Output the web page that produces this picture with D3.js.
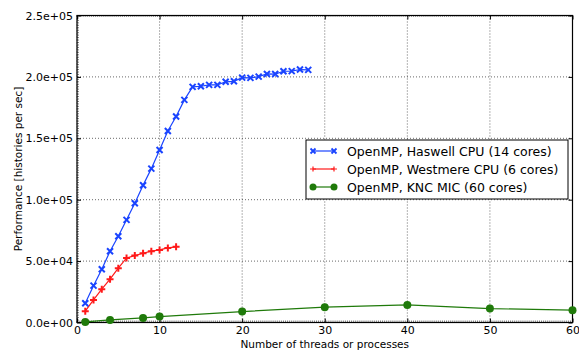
<!DOCTYPE html>
<html>
<head>
<meta charset="utf-8">
<script src="https://cdn.jsdelivr.net/npm/d3@7"></script>
<style>
  body { margin: 0; background: #fff; }
  svg { display: block; font-family: "DejaVu Sans", sans-serif; }
</style>
</head>
<body>
<div id="chart"></div>
<script>
// Data
var haswellThreads = d3.range(1, 29);
var haswellPerf = [15700, 30000, 43400, 58000, 70300, 83600, 97100, 111800, 125300, 140500,
    156000, 167700, 181300, 191900, 192400, 193500, 193500, 196000, 196400, 199400,
    199200, 200200, 202400, 202300, 204600, 204700, 206000, 205700];

var westmereThreads = d3.range(1, 13);
var westmerePerf = [9200, 18400, 27100, 35300, 44200, 52600, 54500, 56400, 58100, 59100, 60700, 61600];

var kncThreads = [1, 4, 8, 10, 20, 30, 40, 50, 60];
var kncPerf = [500, 2100, 3700, 4800, 8900, 12500, 14300, 11300, 10000];

var xTicks = [0, 10, 20, 30, 40, 50, 60];
var yTicks = [0, 50000, 100000, 150000, 200000, 250000];

var seriesNames = ["OpenMP, Haswell CPU (14 cores)", "OpenMP, Westmere CPU (6 cores)", "OpenMP, KNC MIC (60 cores)"];

var svgWidth = 579;
var svgHeight = 350;

var margin = { top: 15.5, bottom: 27.5, left: 77, right: 6.5 };
var width = svgWidth - margin.left - margin.right;
var height = svgHeight - margin.top - margin.bottom;

var svg = d3.select("#chart")
    .append("svg")
    .attr("width", svgWidth)
    .attr("height", svgHeight);

var chartGroup = svg.append("g")
    .attr("transform", `translate(${margin.left}, ${margin.top})`);

var xScale = d3.scaleLinear().domain([0, 60]).range([0, width]);
var yScale = d3.scaleLinear().domain([0, 250000]).range([height, 0]);

// grid
chartGroup.append("g")
    .selectAll("line")
    .data(xTicks)
    .enter()
    .append("line")
    .attr("x1", d => xScale(d)).attr("x2", d => xScale(d))
    .attr("y1", 0).attr("y2", height)
    .attr("stroke", "#000")
    .attr("stroke-width", 0.6)
    .attr("stroke-dasharray", "1,2");

chartGroup.append("g")
    .selectAll("line")
    .data(yTicks)
    .enter()
    .append("line")
    .attr("y1", d => yScale(d)).attr("y2", d => yScale(d))
    .attr("x1", 0).attr("x2", width)
    .attr("stroke", "#000")
    .attr("stroke-width", 0.6)
    .attr("stroke-dasharray", "1,2");

// axes, ticks pointing inward
var fmt = d => d3.format(".1e")(d).replace(/e([+-])(\d)$/, "e$10$2");

var xAxis = chartGroup.append("g")
    .attr("transform", `translate(0, ${height})`)
    .call(d3.axisBottom(xScale).tickValues(xTicks).tickSizeInner(-4).tickSizeOuter(0).tickPadding(4));
var xAxisTop = chartGroup.append("g")
    .call(d3.axisTop(xScale).tickValues(xTicks).tickSizeInner(-4).tickSizeOuter(0).tickFormat(""));
var yAxis = chartGroup.append("g")
    .call(d3.axisLeft(yScale).tickValues(yTicks).tickSizeInner(-4).tickSizeOuter(0).tickPadding(4).tickFormat(fmt));
var yAxisRight = chartGroup.append("g")
    .attr("transform", `translate(${width}, 0)`)
    .call(d3.axisRight(yScale).tickValues(yTicks).tickSizeInner(-4).tickSizeOuter(0).tickFormat(""));

// dense minor ticks on bottom, top and left spines
var xMinor = d3.range(0, 60.01, 0.25);
var yMinor = d3.range(0, 250001, 2000);
chartGroup.append("g").selectAll("line").data(xMinor).enter().append("line")
    .attr("x1", d => xScale(d)).attr("x2", d => xScale(d))
    .attr("y1", height).attr("y2", height - 2).attr("stroke", "#000").attr("stroke-width", 0.5);
chartGroup.append("g").selectAll("line").data(xMinor).enter().append("line")
    .attr("x1", d => xScale(d)).attr("x2", d => xScale(d))
    .attr("y1", 0).attr("y2", 1.5).attr("stroke", "#000").attr("stroke-width", 0.4);
chartGroup.append("g").selectAll("line").data(yMinor).enter().append("line")
    .attr("y1", d => yScale(d)).attr("y2", d => yScale(d))
    .attr("x1", 0).attr("x2", 2).attr("stroke", "#000").attr("stroke-width", 0.5);

[xAxis, xAxisTop, yAxis, yAxisRight].forEach(function(a) {
    a.select(".domain").remove();
    a.selectAll("text").attr("font-size", "11px").attr("font-family", "DejaVu Sans").attr("fill", "#000");
});

chartGroup.append("rect")
    .attr("width", width).attr("height", height)
    .attr("fill", "none").attr("stroke", "#000").attr("stroke-width", 1.2);

// series
var line = d3.line().x(d => xScale(d[0])).y(d => yScale(d[1]));

var haswell = haswellThreads.map((t, i) => [t, haswellPerf[i]]);
var westmere = westmereThreads.map((t, i) => [t, westmerePerf[i]]);
var knc = kncThreads.map((t, i) => [t, kncPerf[i]]);

var blue = "#1a44ff", red = "#ff1a1a", green = "#1f7a0a";

chartGroup.append("path").datum(knc).attr("d", line)
    .attr("fill", "none").attr("stroke", green).attr("stroke-width", 1.2);
chartGroup.append("g").selectAll("circle").data(knc).enter().append("circle")
    .attr("cx", d => xScale(d[0])).attr("cy", d => yScale(d[1]))
    .attr("r", 4).attr("fill", green);

chartGroup.append("path").datum(westmere).attr("d", line)
    .attr("fill", "none").attr("stroke", red).attr("stroke-width", 1.2);
chartGroup.append("g").selectAll("path").data(westmere).enter().append("path")
    .attr("transform", d => `translate(${xScale(d[0])}, ${yScale(d[1])})`)
    .attr("d", "M-3.5,0H3.5M0,-3.5V3.5")
    .attr("stroke", red).attr("stroke-width", 2);

chartGroup.append("path").datum(haswell).attr("d", line)
    .attr("fill", "none").attr("stroke", blue).attr("stroke-width", 1.2);
chartGroup.append("g").selectAll("path").data(haswell).enter().append("path")
    .attr("transform", d => `translate(${xScale(d[0])}, ${yScale(d[1])})`)
    .attr("d", "M-3,-3L3,3M-3,3L3,-3")
    .attr("stroke", blue).attr("stroke-width", 2);

// axis labels
svg.append("text")
    .attr("x", margin.left + width / 2).attr("y", 348)
    .attr("text-anchor", "middle").attr("font-size", "10.5px")
    .text("Number of threads or processes");

svg.append("text")
    .attr("transform", `translate(22, ${margin.top + height / 2}) rotate(-90)`)
    .attr("text-anchor", "middle").attr("font-size", "10.5px")
    .text("Performance [histories per sec]");

// legend
var legend = svg.append("g").attr("transform", "translate(306, 140)");
legend.append("rect")
    .attr("width", 262).attr("height", 59)
    .attr("fill", "#fff").attr("stroke", "#000").attr("stroke-width", 1);

var legendColors = [blue, red, green];
var legendRows = legend.selectAll("g").data(seriesNames).enter().append("g")
    .attr("transform", (d, i) => `translate(0, ${11 + i * 18})`);

legendRows.append("line")
    .attr("x1", 7).attr("x2", 28)
    .attr("stroke", (d, i) => legendColors[i]).attr("stroke-width", 1.2);
legendRows.each(function(d, i) {
    var g = d3.select(this);
    [7, 28].forEach(function(x) {
        if (i === 0) {
            g.append("path").attr("transform", `translate(${x},0)`)
                .attr("d", "M-2.5,-2.5L2.5,2.5M-2.5,2.5L2.5,-2.5")
                .attr("stroke", blue).attr("stroke-width", 1.8);
        } else if (i === 1) {
            g.append("path").attr("transform", `translate(${x},0)`)
                .attr("d", "M-3,0H3M0,-2.5V2.5")
                .attr("stroke", red).attr("stroke-width", 1.2);
        } else {
            g.append("circle").attr("cx", x).attr("r", 3.5).attr("fill", green);
        }
    });
});
legendRows.append("text")
    .attr("x", 41).attr("y", 4.5)
    .attr("font-size", "12.5px")
    .text(d => d);
</script>
</body>
</html>
